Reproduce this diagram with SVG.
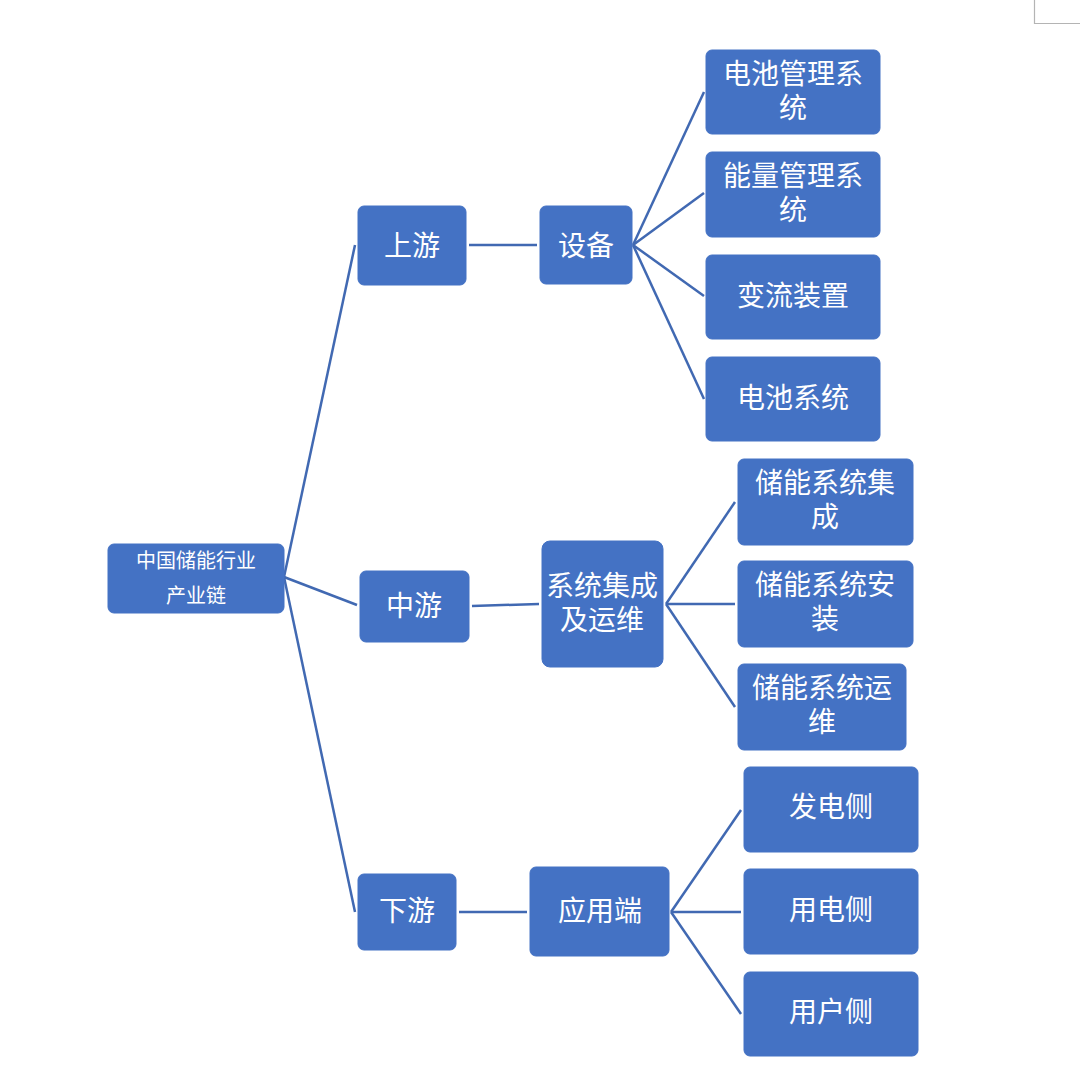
<svg xmlns="http://www.w3.org/2000/svg" width="1080" height="1091" viewBox="0 0 1080 1091">
<style>
.box{fill:#4472C4;stroke:#4472C4;stroke-width:1}
.t{fill:#fff;font-family:"Microsoft YaHei","Noto Sans CJK SC","Noto Sans",sans-serif;font-size:28px;text-anchor:middle;dominant-baseline:central}
.s{font-size:20px}
.c{stroke:#4169B2;stroke-width:2.5;fill:none}
</style>
<rect width="1080" height="1091" fill="#fff"/>
<path d="M1034.5 0V23.5H1080" fill="none" stroke="#b4b4b4" stroke-width="1.2"/>
<g id="connectors">
<line class="c" x1="284" y1="577" x2="355" y2="245"/>
<line class="c" x1="284" y1="577" x2="357" y2="605"/>
<line class="c" x1="284" y1="577" x2="355" y2="912"/>
<line class="c" x1="469" y1="245" x2="537" y2="245"/>
<line class="c" x1="633" y1="245" x2="704" y2="92"/>
<line class="c" x1="633" y1="245" x2="704" y2="193"/>
<line class="c" x1="633" y1="245" x2="704" y2="296"/>
<line class="c" x1="633" y1="245" x2="704" y2="399"/>
<line class="c" x1="472" y1="606" x2="539" y2="604"/>
<line class="c" x1="666" y1="604" x2="735" y2="502"/>
<line class="c" x1="666" y1="604" x2="735" y2="604"/>
<line class="c" x1="666" y1="604" x2="735" y2="707"/>
<line class="c" x1="459" y1="912" x2="527" y2="912"/>
<line class="c" x1="671" y1="912" x2="741" y2="810"/>
<line class="c" x1="671" y1="912" x2="741" y2="912"/>
<line class="c" x1="671" y1="912" x2="741" y2="1014"/>
</g>
<g id="root"><rect class="box" x="108" y="544" width="176" height="69" rx="6"/><text class="t s"><tspan x="196" y="559">中国储能行业</tspan><tspan x="196" y="594">产业链</tspan></text></g>
<g id="upstream"><rect class="box" x="358" y="206" width="108" height="79" rx="6"/><text class="t" x="412" y="244">上游</text></g>
<g id="equipment"><rect class="box" x="540" y="206" width="92" height="78" rx="6"/><text class="t" x="586" y="244">设备</text></g>
<g id="bms"><rect class="box" x="706" y="50" width="174" height="84" rx="6"/><text class="t"><tspan x="793" y="72">电池管理系</tspan><tspan x="793" y="106">统</tspan></text></g>
<g id="ems"><rect class="box" x="706" y="152" width="174" height="85" rx="6"/><text class="t"><tspan x="793" y="174">能量管理系</tspan><tspan x="793" y="208">统</tspan></text></g>
<g id="pcs"><rect class="box" x="706" y="255" width="174" height="84" rx="6"/><text class="t" x="793" y="294">变流装置</text></g>
<g id="battery"><rect class="box" x="706" y="357" width="174" height="84" rx="6"/><text class="t" x="793" y="396">电池系统</text></g>
<g id="midstream"><rect class="box" x="360" y="571" width="109" height="71" rx="6"/><text class="t" x="414" y="604">中游</text></g>
<g id="integration"><rect class="box" x="542" y="541" width="121" height="126" rx="8"/><text class="t"><tspan x="602" y="584">系统集成</tspan><tspan x="602" y="618">及运维</tspan></text></g>
<g id="ess-integration"><rect class="box" x="738" y="459" width="175" height="86" rx="6"/><text class="t"><tspan x="825" y="481">储能系统集</tspan><tspan x="825" y="515">成</tspan></text></g>
<g id="ess-install"><rect class="box" x="738" y="561" width="175" height="86" rx="6"/><text class="t"><tspan x="825" y="583">储能系统安</tspan><tspan x="825" y="617">装</tspan></text></g>
<g id="ess-om"><rect class="box" x="738" y="664" width="168" height="86" rx="6"/><text class="t"><tspan x="822" y="686">储能系统运</tspan><tspan x="822" y="720">维</tspan></text></g>
<g id="downstream"><rect class="box" x="358" y="874" width="98" height="76" rx="6"/><text class="t" x="407" y="909">下游</text></g>
<g id="application"><rect class="box" x="530" y="867" width="139" height="89" rx="6"/><text class="t" x="600" y="909">应用端</text></g>
<g id="generation"><rect class="box" x="744" y="767" width="174" height="85" rx="6"/><text class="t" x="831" y="805">发电侧</text></g>
<g id="grid"><rect class="box" x="744" y="869" width="174" height="85" rx="6"/><text class="t" x="831" y="908">用电侧</text></g>
<g id="user"><rect class="box" x="744" y="972" width="174" height="84" rx="6"/><text class="t" x="831" y="1010">用户侧</text></g>
</svg>
